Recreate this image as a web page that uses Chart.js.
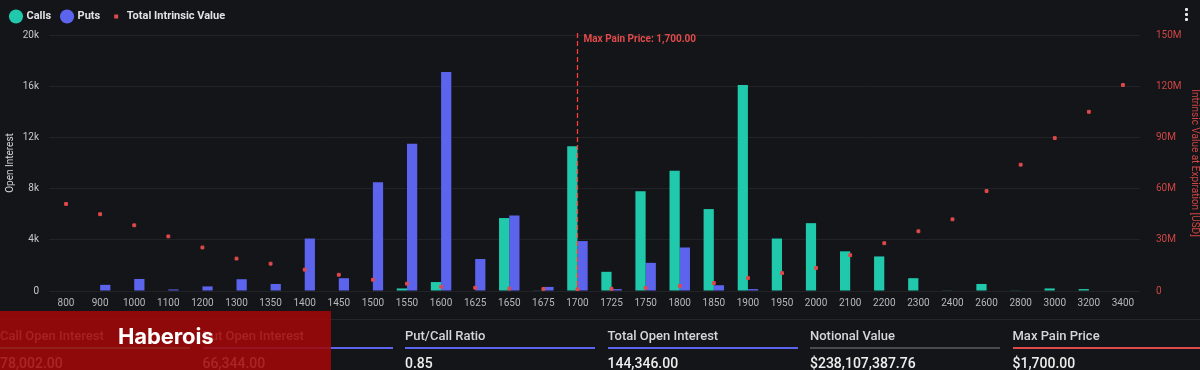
<!DOCTYPE html>
<html>
<head>
<meta charset="utf-8">
<script src="https://cdn.jsdelivr.net/npm/chart.js@4.4.1/dist/chart.umd.min.js"></script>
<style>
  html, body { margin: 0; padding: 0; background: #141518; width: 1200px; height: 370px; overflow: hidden; font-family: Roboto, "Noto Sans", sans-serif; }
  #wrap { position: absolute; left: 0; top: 0; width: 1200px; height: 323px; }
  #divider { position: absolute; left: 0; top: 319px; width: 1200px; height: 1px; background: #26272b; }
  .card { position: absolute; top: 321px; width: 190px; height: 49px; }
  .card .t { position: absolute; left: 0; top: 7px; font-size: 13px; font-weight: 500; color: #d6d6d8; white-space: nowrap; }
  .card .u { position: absolute; left: 0; right: 0; top: 26px; height: 2px; }
  .card .v { position: absolute; left: 0; top: 34px; font-size: 14px; font-weight: 500; color: #eeeeee; white-space: nowrap; }
  #overlay { position: absolute; left: 0; top: 311px; width: 331px; height: 59px; background: rgba(160, 8, 8, 0.88); }
  #overlay span { position: absolute; left: 118px; top: 12px; font-family: Inter, sans-serif; font-weight: 700; font-size: 22px; color: #ffffff; letter-spacing: -0.1px; }
  #kebab { position: absolute; left: 1185px; top: 8px; width: 3px; }
  #kebab div { width: 3px; height: 3px; background: #e8e8e8; margin-bottom: 2px; border-radius: 1px; }
</style>
</head>
<body>
<div id="divider"></div>
<div id="wrap"><canvas id="c" width="1200" height="323"></canvas></div>
<div id="kebab"><div></div><div></div><div></div></div>
<div id="cards"></div>
<div id="overlay"><span>Haberois</span></div>
<script>
const strikes = ['800','900','1000','1100','1200','1300','1350','1400','1450','1500','1550','1600','1625','1650','1675','1700','1725','1750','1800','1850','1900','1950','2000','2100','2200','2300','2400','2600','2800','3000','3200','3400'];
const callsOI = [0,0,0,0,0,0,0,0,0,0,200,700,0,5700,50,11300,1500,7800,9400,6400,16100,4100,5300,3100,2700,1000,50,550,50,200,150,0];
const putsOI  = [0,480,940,120,360,920,550,4100,1000,8500,11500,17100,2500,5900,320,3900,150,2200,3400,450,150,0,0,0,0,0,0,0,0,0,0,0];
const intrinsicM = [51,45,38.5,32,25.5,19,16,12.5,9.5,6.6,4.3,2.5,1.9,1.4,1.2,1.1,1.3,1.8,3.0,4.7,7.6,10.5,13.5,21,28,35,42,58.6,74,89.6,105,120.7];
const leftTicks = [0,4000,8000,12000,16000,20000];
const rightTicks = [0,30e6,60e6,90e6,120e6,150e6];
const maxPainStrike = '1700';
const maxPainLabel = 'Max Pain Price: 1,700.00';
const stats = [
  ['Call Open Interest','78,002.00','#20c9ac'],
  ['Put Open Interest','66,344.00','#5c64ee'],
  ['Put/Call Ratio','0.85','#5c64ee'],
  ['Total Open Interest','144,346.00','#5c64ee'],
  ['Notional Value','$238,107,387.76','#4a4b50'],
  ['Max Pain Price','$1,700.00','#e04a4a']
];

const cardsEl = document.getElementById('cards');
stats.forEach((s, i) => {
  const d = document.createElement('div');
  d.className = 'card';
  d.style.left = (i * 202.5) + 'px';
  if (i === stats.length - 1) d.style.width = (1200 - i * 202.5) + 'px';
  d.innerHTML = '<div class="t">' + s[0] + '</div><div class="u" style="background:' + s[2] + '"></div><div class="v">' + s[1] + '</div>';
  cardsEl.appendChild(d);
});

const RED = '#e04a4a';
// small square legend marker for the intrinsic value series
const smallRect = document.createElement('canvas');
smallRect.width = 10; smallRect.height = 10;
(function () { const g = smallRect.getContext('2d'); g.fillStyle = RED; g.fillRect(3, 3, 4, 4); })();

const maxPainPlugin = {
  id: 'maxPain',
  afterDatasetsDraw(chart) {
    const x = chart.scales.x.getPixelForValue(strikes.indexOf(maxPainStrike));
    const ctx = chart.ctx;
    const a = chart.chartArea;
    ctx.save();
    ctx.strokeStyle = '#ff3a3a';
    ctx.lineWidth = 1.3;
    ctx.setLineDash([5, 3]);
    ctx.beginPath();
    ctx.moveTo(Math.round(x) + 0.5, a.top - 2);
    ctx.lineTo(Math.round(x) + 0.5, a.bottom);
    ctx.stroke();
    ctx.setLineDash([]);
    ctx.fillStyle = RED;
    ctx.font = 'bold 10px Roboto';
    ctx.textBaseline = 'middle';
    ctx.fillText(maxPainLabel, x + 6, a.top + 4);
    ctx.restore();
  }
};
const legendHeightPlugin = {
  id: 'legendHeight',
  beforeInit(chart) {
    const orig = chart.legend.fit;
    chart.legend.fit = function () { orig.call(this); this.height = 35; };
  }
};

Chart.defaults.font.family = 'Roboto';
new Chart(document.getElementById('c'), {
  type: 'bar',
  data: {
    labels: strikes,
    datasets: [
      { label: 'Calls', data: callsOI, backgroundColor: '#20c9ac', yAxisID: 'y', categoryPercentage: 0.6, barPercentage: 1.0, order: 2 },
      { label: 'Puts', data: putsOI, backgroundColor: '#5c64ee', yAxisID: 'y', categoryPercentage: 0.6, barPercentage: 1.0, order: 2 },
      { label: 'Total Intrinsic Value', type: 'line', data: intrinsicM.map(v => v * 1e6), yAxisID: 'y1', showLine: false,
        pointStyle: 'rect', pointRadius: 2, pointBackgroundColor: RED, pointBorderColor: RED, backgroundColor: RED, borderColor: RED, order: 0 }
    ]
  },
  options: {
    responsive: false,
    animation: false,
    layout: { padding: { top: 0, bottom: 8 } },
    plugins: {
      tooltip: { enabled: false },
      legend: {
        position: 'top', align: 'start',
        labels: { usePointStyle: true, boxWidth: 10, boxHeight: 10, padding: 11, color: '#e2e2e4', font: { size: 11, weight: 'bold' },
          generateLabels(chart) {
            return chart.data.datasets.map((ds, i) => ({
              text: ds.label, fillStyle: ds.type === 'line' ? RED : ds.backgroundColor, strokeStyle: 'transparent', lineWidth: 0,
              pointStyle: ds.type === 'line' ? smallRect : 'circle', datasetIndex: i, fontColor: '#e2e2e4'
            }));
          }
        }
      }
    },
    scales: {
      x: {
        grid: { display: false, drawTicks: false },
        border: { display: false },
        ticks: { color: '#b8b8bc', font: { size: 10 }, maxRotation: 0, autoSkip: false, padding: 6 }
      },
      y: {
        position: 'left', min: 0, max: 20000,
        afterBuildTicks(s) { s.ticks = leftTicks.map(v => ({ value: v })); },
        afterFit(s) { s.width = 49; },
        grid: { color: '#222327', drawTicks: false },
        border: { display: false },
        ticks: { color: '#c8c8cc', font: { size: 10 }, padding: 10, callback: v => v === 0 ? '0' : (v / 1000) + 'k' },
        title: { display: true, text: 'Open Interest', color: '#d6d6d8', font: { size: 10 }, padding: { top: 4, bottom: 0 } }
      },
      y1: {
        position: 'right', min: 0, max: 150e6,
        afterBuildTicks(s) { s.ticks = rightTicks.map(v => ({ value: v })); },
        afterFit(s) { s.width = 60; },
        grid: { display: false, drawTicks: false },
        border: { display: false },
        ticks: { color: '#d04545', font: { size: 10 }, padding: 16, callback: v => v === 0 ? '0' : (v / 1e6) + 'M' },
        title: { display: true, text: 'Intrinsic Value at Expiration [USD]', color: '#d04545', font: { size: 10 }, padding: { top: 0, bottom: 2 } }
      }
    }
  },
  plugins: [maxPainPlugin, legendHeightPlugin]
});
</script>
</body>
</html>
